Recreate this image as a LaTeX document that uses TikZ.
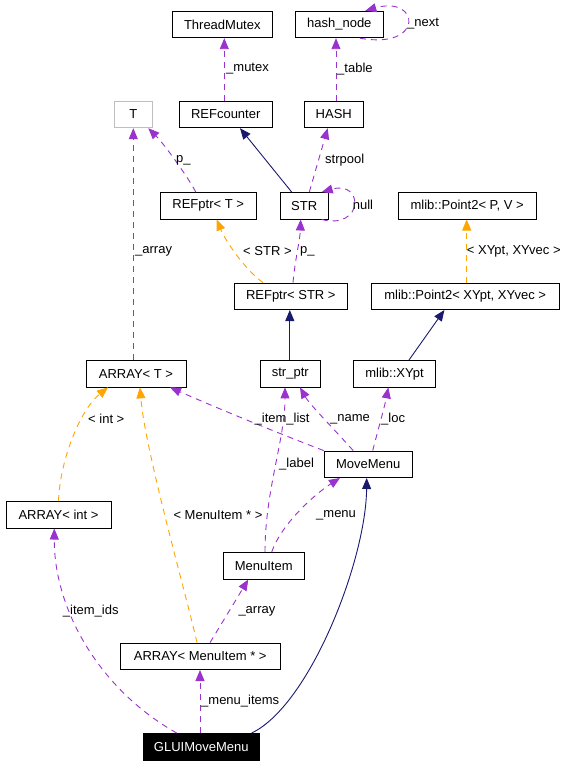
\documentclass[tikz,border=0pt]{standalone}
\usepackage{fontspec}
\setmainfont{Liberation Sans}
\usetikzlibrary{arrows.meta}
\definecolor{usecol}{RGB}{154,50,205}
\definecolor{inhcol}{RGB}{25,25,112}
\definecolor{tmplcol}{RGB}{255,165,0}
\definecolor{graycol}{RGB}{191,191,191}
\begin{document}
\begin{tikzpicture}[x=1pt,y=-1pt,
 box/.style={draw, rectangle, inner sep=0pt, minimum height=26.5pt, line width=0.9pt, font=\fontsize{13}{15}\selectfont},
 lbl/.style={anchor=west, inner sep=0pt, font=\fontsize{13}{15}\selectfont},
 uses/.style={color=usecol, dash pattern=on 6pt off 5pt, line width=0.9pt, -{Triangle[length=11pt,width=9pt]}},
 tmpl/.style={uses, color=tmplcol},
 inh/.style={color=inhcol, line width=0.9pt, -{Triangle[length=11pt,width=9pt]}}]
\useasboundingbox (0,0) rectangle (571,765);
% nodes
\node[box, minimum width=100pt] (tm) at (222.3,24.5) {ThreadMutex};
\node[box, minimum width=88pt] (hn) at (339.3,24.5) {hash\_node};
\node[box, minimum width=38pt, draw=graycol] (T) at (133.3,114.5) {T};
\node[box, minimum width=93.3pt] (rc) at (225.7,114.5) {REFcounter};
\node[box, minimum width=59pt] (hash) at (333.8,114.5) {HASH};
\node[box, minimum width=96.3pt] (rpt) at (208.2,205.8) {REFptr< T >};
\node[box, minimum width=48.3pt] (str) at (304.2,205.8) {STR};
\node[box, minimum width=137.7pt] (ppv) at (467.2,205.8) {mlib::Point2< P, V >};
\node[box, minimum width=113pt] (rps) at (290.8,296.3) {REFptr< STR >};
\node[box, minimum width=188.3pt] (pxy) at (465.2,296.3) {mlib::Point2< XYpt, XYvec >};
\node[box, minimum width=100pt] (arrt) at (136,373.7) {ARRAY< T >};
\node[box, minimum width=60.7pt] (sp) at (290.3,373.7) {str\_ptr};
\node[box, minimum width=82pt] (xy) at (394.5,373.7) {mlib::XYpt};
\node[box, minimum width=88pt] (mm) at (368.2,464.3) {MoveMenu};
\node[box, minimum width=105pt] (arri) at (58.5,514.8) {ARRAY< int >};
\node[box, minimum width=81.3pt] (mi) at (263.7,565.8) {MenuItem};
\node[box, minimum width=160.3pt] (arrm) at (200.2,656.3) {ARRAY< MenuItem * >};
\node[box, minimum width=116.7pt, fill=black, text=white] (glui) at (201.3,746.7) {GLUIMoveMenu};
% edges
\draw[uses] ([xshift=-1.4pt]rc.north) -- ([xshift=2pt]tm.south);
\node[lbl] (l1) at (226,69) {\_mutex};
\draw[uses] ([xshift=2.2pt]hash.north) -- ([xshift=-3.3pt]hn.south);
\node[lbl] (l2) at (337,69) {\_table};
\draw[uses] ([xshift=20.7pt]hn.south) .. controls (425,50) and (420,-5) .. ([xshift=26pt]hn.north);
\node[lbl] (l3) at (407,24) {\_next};
\draw[inh] ([xshift=-12.5pt]str.north) -- ([xshift=14.3pt]rc.south);
\draw[uses] ([xshift=5.1pt]str.north) -- ([xshift=-6.1pt]hash.south);
\node[lbl] (l4) at (325,160) {strpool};
\draw[uses] ([xshift=17.5pt]str.south) .. controls (364,230) and (364,180) .. ([xshift=17.5pt]str.north);
\node[lbl] (l5) at (352.7,205) {null};
\draw[uses] ([xshift=-12.5pt]rpt.north) .. controls (190,180) and (165,145) .. ([xshift=15pt]T.south);
\node[lbl] (l6) at (176,160) {p\_};
\draw[uses] ([xshift=-2.7pt]arrt.north) -- (T.south);
\node[lbl] (l7) at (135,251) {\_array};
\draw[tmpl] ([xshift=-27.8pt]rps.north) .. controls (245,270) and (225,240) .. ([xshift=8.5pt]rpt.south);
\node[lbl] (l8) at (243,251) {< STR >};
\draw[uses] ([xshift=2.2pt]rps.north) .. controls (295,260) and (300,240) .. ([xshift=-3.5pt]str.south);
\node[lbl] (l9) at (300,251) {p\_};
\draw[tmpl] ([xshift=1.5pt]pxy.north) -- ([xshift=-0.5pt]ppv.south);
\node[lbl] (l10) at (466.7,251.7) {< XYpt, XYvec >};
\draw[inh] ([xshift=-0.5pt]sp.north) -- ([xshift=-1pt]rps.south);
\draw[inh] ([xshift=14.5pt]xy.north) -- ([xshift=-20.8pt]pxy.south);
\draw[uses] (mm.north west) .. controls (270,430) and (210,405) .. ([xshift=34pt]arrt.south);
\node[lbl] (l11) at (254.5,419) {\_item\_list};
\draw[uses] ([xshift=-15pt]mm.north) .. controls (335,430) and (310,405) .. ([xshift=9.7pt]sp.south);
\node[lbl] (l12) at (330,419) {\_name};
\draw[uses] ([xshift=4.5pt]mm.north) .. controls (378,430) and (385,405) .. ([xshift=-6.2pt]xy.south);
\node[lbl] (l13) at (381,419) {\_loc};
\draw[uses] ([xshift=1.3pt]mi.north) .. controls (265,490) and (285,440) .. ([xshift=-5.3pt]sp.south);
\node[lbl] (l14) at (279,464) {\_label};
\draw[uses] ([xshift=8pt]mi.north) .. controls (282,522) and (318,492) .. ([xshift=-28.2pt]mm.south);
\node[lbl] (l15) at (316,515) {\_menu};
\draw[tmpl] (arri.north) .. controls (60,460) and (80,410) .. ([xshift=-28pt]arrt.south);
\node[lbl] (l16) at (88,419) {< int >};
\draw[tmpl] ([xshift=-3.2pt]arrm.north) .. controls (185,590) and (145,450) .. ([xshift=4pt]arrt.south);
\node[lbl] (l17) at (173.3,515) {< MenuItem * >};
\draw[uses] ([xshift=9.8pt]arrm.north) -- ([xshift=-15.4pt]mi.south);
\node[lbl] (l18) at (238.3,611) {\_array};
\draw[uses] ([xshift=-24.6pt]glui.north) .. controls (100,690) and (54,610) .. ([xshift=-4.2pt]arri.south);
\node[lbl] (l19) at (62.7,610.7) {\_item\_ids};
\draw[uses] ([xshift=-1.3pt]glui.north) -- ([xshift=-0.2pt]arrm.south);
\node[lbl] (l20) at (201,700.7) {\_menu\_items};
\draw[inh] ([xshift=50.4pt]glui.north) .. controls (310,705) and (366,560) .. ([xshift=-1.5pt]mm.south);
\end{tikzpicture}
\end{document}
